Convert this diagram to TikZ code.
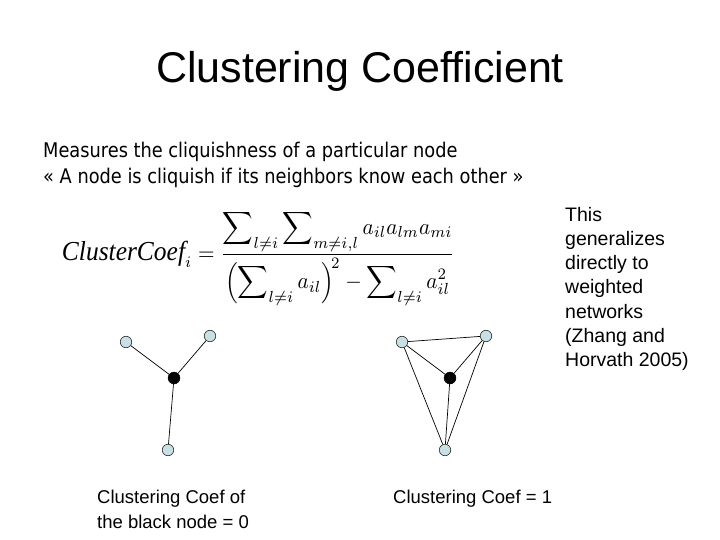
\documentclass[tikz,border=0pt]{standalone}
\usepackage{fontspec}
\setmainfont{Liberation Sans}
\newfontfamily\bodyfont[FakeStretch=0.88]{DejaVu Sans}
\newfontfamily\termfont{Liberation Serif}
\usepackage{amsmath}
\usepackage{graphicx}
\usetikzlibrary{positioning}
\definecolor{leafblue}{RGB}{198,224,228}
\definecolor{edgegray}{RGB}{40,40,40}

\begin{document}
\begin{tikzpicture}[
    x=1pt,y=-1pt,
    leaf/.style={circle,draw=edgegray,fill=leafblue,line width=0.6pt,
      minimum size=11.5pt,inner sep=0pt},
    hub/.style={circle,draw=black,fill=black,minimum size=12pt,inner sep=0pt},
    link/.style={draw=black,line width=0.7pt},
    txt/.style={anchor=base west,inner sep=0pt},
    blurb/.style={anchor=north west,inner sep=0pt,align=left}
  ]
  \useasboundingbox (0,0) rectangle (720,540);

  \node[anchor=base,inner sep=0pt,font=\fontsize{43}{50}\selectfont]
    (title) at (360,83) {Clustering Coefficient};

  % intro lines
  \node[txt,font=\bodyfont\fontsize{20.2}{26}\selectfont] (intro1) at (43,158)
    {Measures the cliquishness of a particular node};
  \node[txt,font=\bodyfont\fontsize{20.2}{26}\selectfont] (intro2) at (43,184)
    {« A node is cliquish if its neighbors know each other »};

  % formula
  \node[inner sep=0pt] (coef) at (258.5,258) {\resizebox*{393pt}{95pt}{$\displaystyle
    \mbox{\termfont\itshape\large ClusterCoef}_i=
    \frac{\displaystyle\sum\nolimits_{l\neq i}\sum\nolimits_{m\neq i,l}a_{il}a_{lm}a_{mi}}
         {\displaystyle\Bigl(\sum\nolimits_{l\neq i}a_{il}\Bigr)^{\!2}-\sum\nolimits_{l\neq i}a_{il}^2}$}};

  % side note
  \node[blurb,font=\fontsize{19.5}{24.2}\selectfont] (note) at (565,207)
    {This\\generalizes\\directly to\\weighted\\networks\\(Zhang and\\Horvath 2005)};

  % star graph
  \node[leaf] (s1) at (126,342) {};
  \node[leaf] (s2) at (210,336) {};
  \node[hub]  (s0) at (174,378) {};
  \node[leaf] (s3) at (168,450) {};
  \foreach \a/\b in {s0/s1, s0/s2, s0/s3} {
    \draw[link] (\a) -- (\b); }

  % full graph
  \node[leaf] (k1) at (402,342) {};
  \node[leaf] (k2) at (486,336) {};
  \node[hub]  (k0) at (450,378) {};
  \node[leaf] (k3) at (445,450) {};
  \foreach \a/\b in {k1/k2, k0/k1, k0/k2, k0/k3, k1/k3, k2/k3} {
    \draw[link] (\a) -- (\b); }

  % captions
  \node[blurb,font=\fontsize{18.5}{24.5}\selectfont] (cap1) at (97,490)
    {Clustering Coef of\\the black node = 0};
  \node[blurb,font=\fontsize{18.5}{24.5}\selectfont] (cap2) at (393,490)
    {Clustering Coef = 1};
\end{tikzpicture}
\end{document}
